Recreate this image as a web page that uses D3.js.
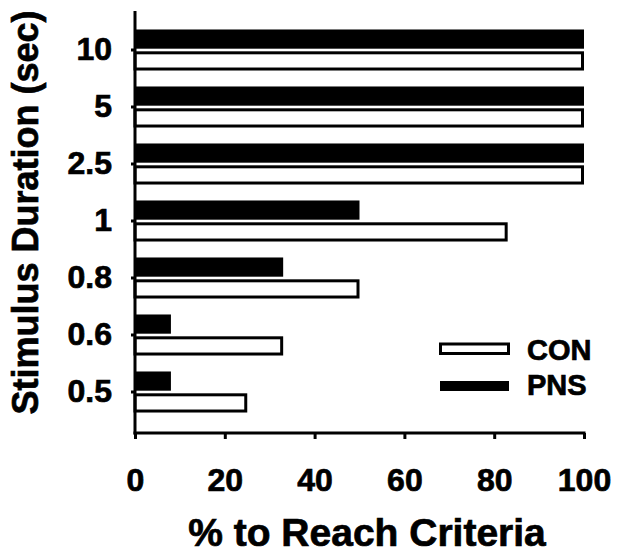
<!DOCTYPE html>
<html>
<head>
<meta charset="utf-8">
<script src="https://cdn.jsdelivr.net/npm/d3@7"></script>
<style>
  body { margin: 0; background: #fff; }
  text { font-family: "Liberation Sans", Arial, sans-serif; font-weight: bold; fill: #000; stroke: #000; stroke-width: 0.7px; }
</style>
</head>
<body>
<div id="chart"></div>
<script>
// data
const durations = ["10", "5", "2.5", "1", "0.8", "0.6", "0.5"];
const series = ["PNS", "CON"];
const pnsValues = [100, 100, 100, 50, 33, 8, 8];
const conValues = [100, 100, 100, 83, 50, 33, 25];
const xTicks = [0, 20, 40, 60, 80, 100];

const width = 624, height = 558;

let svg = d3.select("#chart")
    .append("svg")
    .attr("width", width)
    .attr("height", height);

// scales
let x = d3.scaleLinear()
    .domain([0, 100])
    .range([135, 584]);

let y = d3.scaleBand()
    .domain(durations)
    .range([21.5, 420.5])
    .paddingInner(0.28)
    .paddingOuter(0.14);

let ySub = d3.scaleBand()
    .domain(series)
    .range([0, y.bandwidth()])
    .paddingInner(0.12);

let rows = durations.map((d, i) => ({dur: d, PNS: pnsValues[i], CON: conValues[i]}));

// CON bars (white, outlined)
svg.append("g").selectAll("rect")
    .data(rows)
    .enter()
    .append("rect")
    .attr("x", x(0))
    .attr("y", d => y(d.dur) + ySub("CON") + 1.5)
    .attr("width", d => x(d.CON) - x(0) - 1.5)
    .attr("height", ySub.bandwidth() - 3)
    .attr("fill", "#fff")
    .attr("stroke", "#000")
    .attr("stroke-width", 3);

// PNS bars (black)
svg.append("g").selectAll("rect")
    .data(rows)
    .enter()
    .append("rect")
    .attr("x", x(0))
    .attr("y", d => y(d.dur) + ySub("PNS"))
    .attr("width", d => x(d.PNS) - x(0))
    .attr("height", ySub.bandwidth())
    .attr("fill", "#000");

// y axis
let yAxis = svg.append("g")
    .attr("transform", `translate(${x(0)},0)`)
    .call(d3.axisLeft(y).tickSize(4).tickSizeOuter(0).tickPadding(19));
yAxis.select(".domain").remove();
yAxis.selectAll("line").attr("stroke", "#000").attr("stroke-width", 3);
yAxis.selectAll("text").style("font-size", "32px");

// x axis
let xAxis = svg.append("g")
    .attr("transform", `translate(0,433)`)
    .call(d3.axisBottom(x).tickValues(xTicks).tickSize(6).tickSizeOuter(0).tickPadding(29));
xAxis.select(".domain").remove();
xAxis.selectAll("line").attr("stroke", "#000").attr("stroke-width", 3);
xAxis.selectAll("text").style("font-size", "32px");

// axis lines
svg.append("line")
    .attr("x1", x(0)).attr("x2", x(0))
    .attr("y1", 11).attr("y2", 434.5)
    .attr("stroke", "#000").attr("stroke-width", 3);
svg.append("line")
    .attr("x1", x(0) - 1.5).attr("x2", x(100) + 1.5)
    .attr("y1", 433).attr("y2", 433)
    .attr("stroke", "#000").attr("stroke-width", 3);

// axis titles
svg.append("text")
    .attr("x", 367)
    .attr("y", 546)
    .style("text-anchor", "middle")
    .style("font-size", "39px")
    .text("% to Reach Criteria");

svg.append("text")
    .attr("transform", `translate(38, 212.5) rotate(-90)`)
    .style("text-anchor", "middle")
    .style("font-size", "36px")
    .text("Stimulus Duration (sec)");

// legend
let legend = svg.append("g");
legend.append("rect")
    .attr("x", 440.5).attr("y", 344)
    .attr("width", 68).attr("height", 9.5)
    .attr("fill", "#fff").attr("stroke", "#000").attr("stroke-width", 3);
legend.append("rect")
    .attr("x", 440).attr("y", 381)
    .attr("width", 69).attr("height", 10)
    .attr("fill", "#000");
legend.append("text")
    .attr("x", 527).attr("y", 360)
    .style("font-size", "29px")
    .text("CON");
legend.append("text")
    .attr("x", 527).attr("y", 395)
    .style("font-size", "29px")
    .text("PNS");
</script>
</body>
</html>
